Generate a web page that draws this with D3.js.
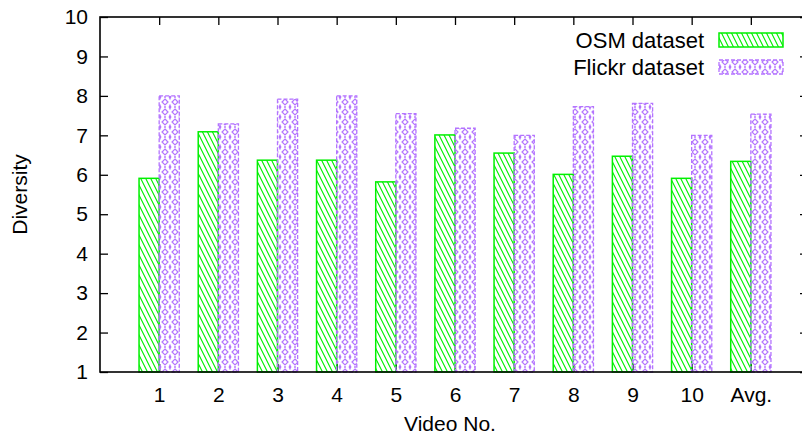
<!DOCTYPE html>
<html>
<head>
<meta charset="utf-8">
<script src="https://cdn.jsdelivr.net/npm/d3@7"></script>
<style>
  body { margin: 0; background: #fff; }
  text { font-family: "Liberation Sans", Arial, sans-serif; fill: #000; }
</style>
</head>
<body>
<div id="chart"></div>
<script>
// chart data
const videos = ["1", "2", "3", "4", "5", "6", "7", "8", "9", "10", "Avg."];
const osm = [5.91, 7.09, 6.37, 6.37, 5.82, 7.01, 6.55, 6.01, 6.47, 5.91, 6.34];
const flickr = [8.0, 7.29, 7.92, 8.0, 7.55, 7.18, 7.0, 7.73, 7.81, 7.0, 7.54];
const yTicks = [1, 2, 3, 4, 5, 6, 7, 8, 9, 10];
const seriesNames = ["OSM dataset", "Flickr dataset"];

const width = 802, height = 443;
const margin = { top: 17, left: 100, bottom: 71, right: -8 }; // right border sits off canvas
const plotW = width - margin.left - margin.right;
const plotH = height - margin.top - margin.bottom;

const green = "#00f000";
const purple = "#b474ff";

const svg = d3.select("#chart").append("svg")
    .attr("width", width)
    .attr("height", height);

// fill patterns (gnuplot style)
const defs = svg.append("defs");
const hatch = defs.append("pattern")
    .attr("id", "hatch")
    .attr("patternUnits", "userSpaceOnUse")
    .attr("width", 5).attr("height", 10);
hatch.append("path")
    .attr("d", "M-1,-2 L6,12 M-6,-2 L1,12 M4,-2 L11,12")
    .attr("stroke", green).attr("stroke-width", 1.1).attr("fill", "none");

const cross = defs.append("pattern")
    .attr("id", "cross")
    .attr("patternUnits", "userSpaceOnUse")
    .attr("width", 10).attr("height", 10);
cross.append("path")
    .attr("d", "M5,2 L8,5 L5,8 L2,5 Z")
    .attr("stroke", purple).attr("stroke-width", 1.2).attr("fill", "none");
cross.append("path")
    .attr("d", "M-1,-1 L1,1 M9,9 L11,11 M9,1 L11,-1 M-1,11 L1,9 M0,0 L0,2.5 M10,7.5 L10,10 M0,7.5 L0,10 M10,0 L10,2.5 M5,0 L5,1 M5,9 L5,10")
    .attr("stroke", purple).attr("stroke-width", 1.4).attr("fill", "none");

const g = svg.append("g")
    .attr("transform", `translate(${margin.left},${margin.top})`);

// scales
const x = d3.scaleLinear().domain([0, 12]).range([0, plotW]);
const y = d3.scaleLinear().domain([1, 10]).range([plotH, 0]);
const barW = x(0.34) - x(0);

// axes (ticks drawn under the bars)
const yAxis = g.append("g")
    .call(d3.axisLeft(y).tickValues(yTicks).tickSize(-8).tickPadding(12));
const yAxisR = g.append("g")
    .attr("transform", `translate(${plotW},0)`)
    .call(d3.axisRight(y).tickValues(yTicks).tickSize(-10).tickFormat(""));
const xAxis = g.append("g")
    .attr("transform", `translate(0,${plotH})`)
    .call(d3.axisBottom(x).tickValues(d3.range(1, videos.length + 1))
        .tickFormat((d) => videos[d - 1]).tickSize(-8).tickPadding(15));
const xAxisT = g.append("g")
    .call(d3.axisTop(x).tickValues(d3.range(1, videos.length + 1))
        .tickSize(-8).tickFormat(""));

[yAxis, yAxisR, xAxis, xAxisT].forEach((a) => {
    a.select(".domain").remove();
    a.selectAll("line").attr("stroke", "#000").attr("stroke-width", 1.3);
    a.selectAll("text").style("font-size", "21px").attr("font-family", null);
});

// bars
g.selectAll("rect.osm")
    .data(osm)
    .join("rect")
    .attr("class", "osm")
    .attr("x", (d, i) => x(i + 1) - barW)
    .attr("y", (d) => y(d))
    .attr("width", barW)
    .attr("height", (d) => plotH - y(d))
    .attr("fill", "url(#hatch)")
    .attr("stroke", green)
    .attr("stroke-width", 1.5);

g.selectAll("rect.flickr")
    .data(flickr)
    .join("rect")
    .attr("class", "flickr")
    .attr("x", (d, i) => x(i + 1))
    .attr("y", (d) => y(d))
    .attr("width", barW)
    .attr("height", (d) => plotH - y(d))
    .attr("fill", "url(#cross)")
    .attr("stroke", purple)
    .attr("stroke-width", 1.3)
    .attr("stroke-dasharray", "4,2");

// border
g.append("rect")
    .attr("width", plotW)
    .attr("height", plotH)
    .attr("fill", "none")
    .attr("stroke", "#000")
    .attr("stroke-width", 1.6);

// axis titles
svg.append("text")
    .attr("x", margin.left + (width - 2 - margin.left) / 2)
    .attr("y", 431)
    .attr("text-anchor", "middle")
    .style("font-size", "21px")
    .text("Video No.");

svg.append("text")
    .attr("transform", `translate(27,${margin.top + plotH / 2}) rotate(-90)`)
    .attr("text-anchor", "middle")
    .style("font-size", "21px")
    .text("Diversity");

// legend
const legend = svg.append("g");
const fills = ["url(#hatch)", "url(#cross)"];
const strokes = [green, purple];
seriesNames.forEach((name, i) => {
    const row = legend.append("g").attr("transform", `translate(0,${i * 27})`);
    row.append("text")
        .attr("x", 704)
        .attr("y", 48)
        .attr("text-anchor", "end")
        .style("font-size", "22px")
        .text(name);
    row.append("rect")
        .attr("x", 719)
        .attr("y", 33)
        .attr("width", 64)
        .attr("height", 14)
        .attr("fill", fills[i])
        .attr("stroke", strokes[i])
        .attr("stroke-width", i === 0 ? 1.5 : 1.3)
        .attr("stroke-dasharray", i === 0 ? null : "4,2");
});
</script>
</body>
</html>
